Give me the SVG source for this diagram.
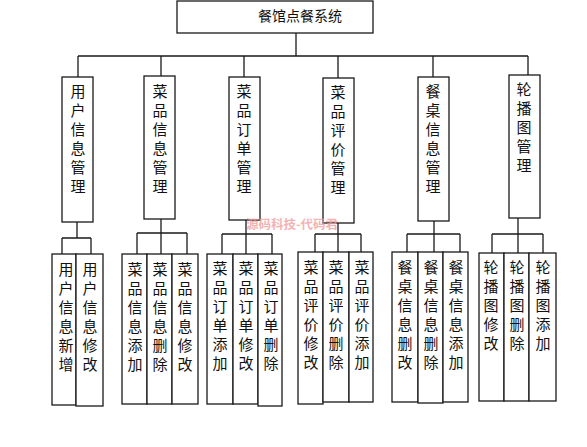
<svg xmlns="http://www.w3.org/2000/svg" width="587" height="447" viewBox="0 0 587 447">
<style>
.b{fill:#fff;stroke:#1a1a1a;stroke-width:1.3}
.c{fill:none;stroke:#1a1a1a;stroke-width:1.3}
.t{font-family:"Noto Sans CJK SC","Noto Sans CJK JP",sans-serif;font-size:15px;fill:#111;text-anchor:middle}
.w{font-family:"Noto Sans CJK SC",sans-serif;font-size:12.5px;font-weight:bold;fill:#f09a9a;opacity:0.75;text-anchor:middle}
</style>
<rect width="587" height="447" fill="#fff"/>
<g id="connectors" class="c">
<path d="M296 33V56M78 56H528M78 56V77M161 56V76M244 56V77M338 56V78M433 56V77M528 56V75"/>
<path d="M77 222V238M62 238H91M62 238V254M91 238V254"/>
<path d="M161 219V254M137 233H187M137 233V254M187 233V254"/>
<path d="M246 220V254M222 234H272M222 234V254M272 234V254"/>
<path d="M338 223V252M315 234H361M315 234V252M361 234V252"/>
<path d="M434 221V252M407 234H460M407 234V252M460 234V252"/>
<path d="M518 218V253M492 234H543M492 234V253M543 234V253"/>
</g>
<g id="root"><rect class="b" x="177" y="1" width="196" height="32"/><text class="t" x="300" y="21" style="font-size:14px">餐馆点餐系统</text></g>
<g id="m1"><rect class="b" x="62" y="77" width="31" height="145"/><text class="t" x="78"><tspan x="78" y="97">用</tspan><tspan x="78" dy="19">户</tspan><tspan x="78" dy="19">信</tspan><tspan x="78" dy="19">息</tspan><tspan x="78" dy="19">管</tspan><tspan x="78" dy="19">理</tspan></text></g>
<g id="m2"><rect class="b" x="144" y="76" width="31" height="143"/><text class="t"><tspan x="160" y="97">菜</tspan><tspan x="160" dy="19">品</tspan><tspan x="160" dy="19">信</tspan><tspan x="160" dy="19">息</tspan><tspan x="160" dy="19">管</tspan><tspan x="160" dy="19">理</tspan></text></g>
<g id="m3"><rect class="b" x="229" y="77" width="31" height="143"/><text class="t"><tspan x="244" y="97">菜</tspan><tspan x="244" dy="19">品</tspan><tspan x="244" dy="19">订</tspan><tspan x="244" dy="19">单</tspan><tspan x="244" dy="19">管</tspan><tspan x="244" dy="19">理</tspan></text></g>
<g id="m4"><rect class="b" x="323" y="78" width="31" height="145"/><text class="t"><tspan x="338" y="98">菜</tspan><tspan x="338" dy="19">品</tspan><tspan x="338" dy="19">评</tspan><tspan x="338" dy="19">价</tspan><tspan x="338" dy="19">管</tspan><tspan x="338" dy="19">理</tspan></text></g>
<g id="m5"><rect class="b" x="418" y="77" width="31" height="144"/><text class="t"><tspan x="433" y="97">餐</tspan><tspan x="433" dy="19">桌</tspan><tspan x="433" dy="19">信</tspan><tspan x="433" dy="19">息</tspan><tspan x="433" dy="19">管</tspan><tspan x="433" dy="19">理</tspan></text></g>
<g id="m6"><rect class="b" x="509" y="75" width="31" height="143"/><text class="t"><tspan x="524" y="95">轮</tspan><tspan x="524" dy="19">播</tspan><tspan x="524" dy="19">图</tspan><tspan x="524" dy="19">管</tspan><tspan x="524" dy="19">理</tspan></text></g>
<g id="s1a"><rect class="b" x="52" y="254" width="24" height="151"/><text class="t"><tspan x="66" y="275">用</tspan><tspan x="66" dy="19">户</tspan><tspan x="66" dy="19">信</tspan><tspan x="66" dy="19">息</tspan><tspan x="66" dy="19">新</tspan><tspan x="66" dy="19">增</tspan></text></g>
<g id="s1b"><rect class="b" x="76" y="254" width="27" height="152"/><text class="t"><tspan x="90" y="275">用</tspan><tspan x="90" dy="19">户</tspan><tspan x="90" dy="19">信</tspan><tspan x="90" dy="19">息</tspan><tspan x="90" dy="19">修</tspan><tspan x="90" dy="19">改</tspan></text></g>
<g id="s2a"><rect class="b" x="122" y="254" width="25" height="150"/><text class="t"><tspan x="135" y="275">菜</tspan><tspan x="135" dy="19">品</tspan><tspan x="135" dy="19">信</tspan><tspan x="135" dy="19">息</tspan><tspan x="135" dy="19">添</tspan><tspan x="135" dy="19">加</tspan></text></g>
<g id="s2b"><rect class="b" x="147" y="254" width="25" height="150"/><text class="t"><tspan x="160" y="275">菜</tspan><tspan x="160" dy="19">品</tspan><tspan x="160" dy="19">信</tspan><tspan x="160" dy="19">息</tspan><tspan x="160" dy="19">删</tspan><tspan x="160" dy="19">除</tspan></text></g>
<g id="s2c"><rect class="b" x="172" y="254" width="26" height="150"/><text class="t"><tspan x="185" y="275">菜</tspan><tspan x="185" dy="19">品</tspan><tspan x="185" dy="19">信</tspan><tspan x="185" dy="19">息</tspan><tspan x="185" dy="19">修</tspan><tspan x="185" dy="19">改</tspan></text></g>
<g id="s3a"><rect class="b" x="207" y="254" width="26" height="150"/><text class="t"><tspan x="220" y="274">菜</tspan><tspan x="220" dy="19">品</tspan><tspan x="220" dy="19">订</tspan><tspan x="220" dy="19">单</tspan><tspan x="220" dy="19">添</tspan><tspan x="220" dy="19">加</tspan></text></g>
<g id="s3b"><rect class="b" x="233" y="254" width="25" height="150"/><text class="t"><tspan x="246" y="274">菜</tspan><tspan x="246" dy="19">品</tspan><tspan x="246" dy="19">订</tspan><tspan x="246" dy="19">单</tspan><tspan x="246" dy="19">修</tspan><tspan x="246" dy="19">改</tspan></text></g>
<g id="s3c"><rect class="b" x="258" y="254" width="24" height="152"/><text class="t"><tspan x="271" y="274">菜</tspan><tspan x="271" dy="19">品</tspan><tspan x="271" dy="19">订</tspan><tspan x="271" dy="19">单</tspan><tspan x="271" dy="19">删</tspan><tspan x="271" dy="19">除</tspan></text></g>
<g id="s4a"><rect class="b" x="298" y="252" width="25" height="152"/><text class="t"><tspan x="311" y="273">菜</tspan><tspan x="311" dy="19">品</tspan><tspan x="311" dy="19">评</tspan><tspan x="311" dy="19">价</tspan><tspan x="311" dy="19">修</tspan><tspan x="311" dy="19">改</tspan></text></g>
<g id="s4b"><rect class="b" x="323" y="252" width="26" height="150"/><text class="t"><tspan x="336" y="273">菜</tspan><tspan x="336" dy="19">品</tspan><tspan x="336" dy="19">评</tspan><tspan x="336" dy="19">价</tspan><tspan x="336" dy="19">删</tspan><tspan x="336" dy="19">除</tspan></text></g>
<g id="s4c"><rect class="b" x="349" y="252" width="24" height="150"/><text class="t"><tspan x="362" y="273">菜</tspan><tspan x="362" dy="19">品</tspan><tspan x="362" dy="19">评</tspan><tspan x="362" dy="19">价</tspan><tspan x="362" dy="19">添</tspan><tspan x="362" dy="19">加</tspan></text></g>
<g id="s5a"><rect class="b" x="392" y="252" width="26" height="150"/><text class="t"><tspan x="405" y="273">餐</tspan><tspan x="405" dy="19">桌</tspan><tspan x="405" dy="19">信</tspan><tspan x="405" dy="19">息</tspan><tspan x="405" dy="19">删</tspan><tspan x="405" dy="19">改</tspan></text></g>
<g id="s5b"><rect class="b" x="418" y="252" width="25" height="151"/><text class="t"><tspan x="431" y="273">餐</tspan><tspan x="431" dy="19">桌</tspan><tspan x="431" dy="19">信</tspan><tspan x="431" dy="19">息</tspan><tspan x="431" dy="19">删</tspan><tspan x="431" dy="19">除</tspan></text></g>
<g id="s5c"><rect class="b" x="443" y="252" width="25" height="150"/><text class="t"><tspan x="456" y="273">餐</tspan><tspan x="456" dy="19">桌</tspan><tspan x="456" dy="19">信</tspan><tspan x="456" dy="19">息</tspan><tspan x="456" dy="19">添</tspan><tspan x="456" dy="19">加</tspan></text></g>
<g id="s6a"><rect class="b" x="479" y="253" width="25" height="148"/><text class="t"><tspan x="491" y="273">轮</tspan><tspan x="491" dy="19">播</tspan><tspan x="491" dy="19">图</tspan><tspan x="491" dy="19">修</tspan><tspan x="491" dy="19">改</tspan></text></g>
<g id="s6b"><rect class="b" x="504" y="253" width="25" height="148"/><text class="t"><tspan x="517" y="273">轮</tspan><tspan x="517" dy="19">播</tspan><tspan x="517" dy="19">图</tspan><tspan x="517" dy="19">删</tspan><tspan x="517" dy="19">除</tspan></text></g>
<g id="s6c"><rect class="b" x="529" y="253" width="27" height="148"/><text class="t"><tspan x="543" y="273">轮</tspan><tspan x="543" dy="19">播</tspan><tspan x="543" dy="19">图</tspan><tspan x="543" dy="19">添</tspan><tspan x="543" dy="19">加</tspan></text></g>
<text class="w" x="292" y="229">源码科技-代码君</text>
</svg>
